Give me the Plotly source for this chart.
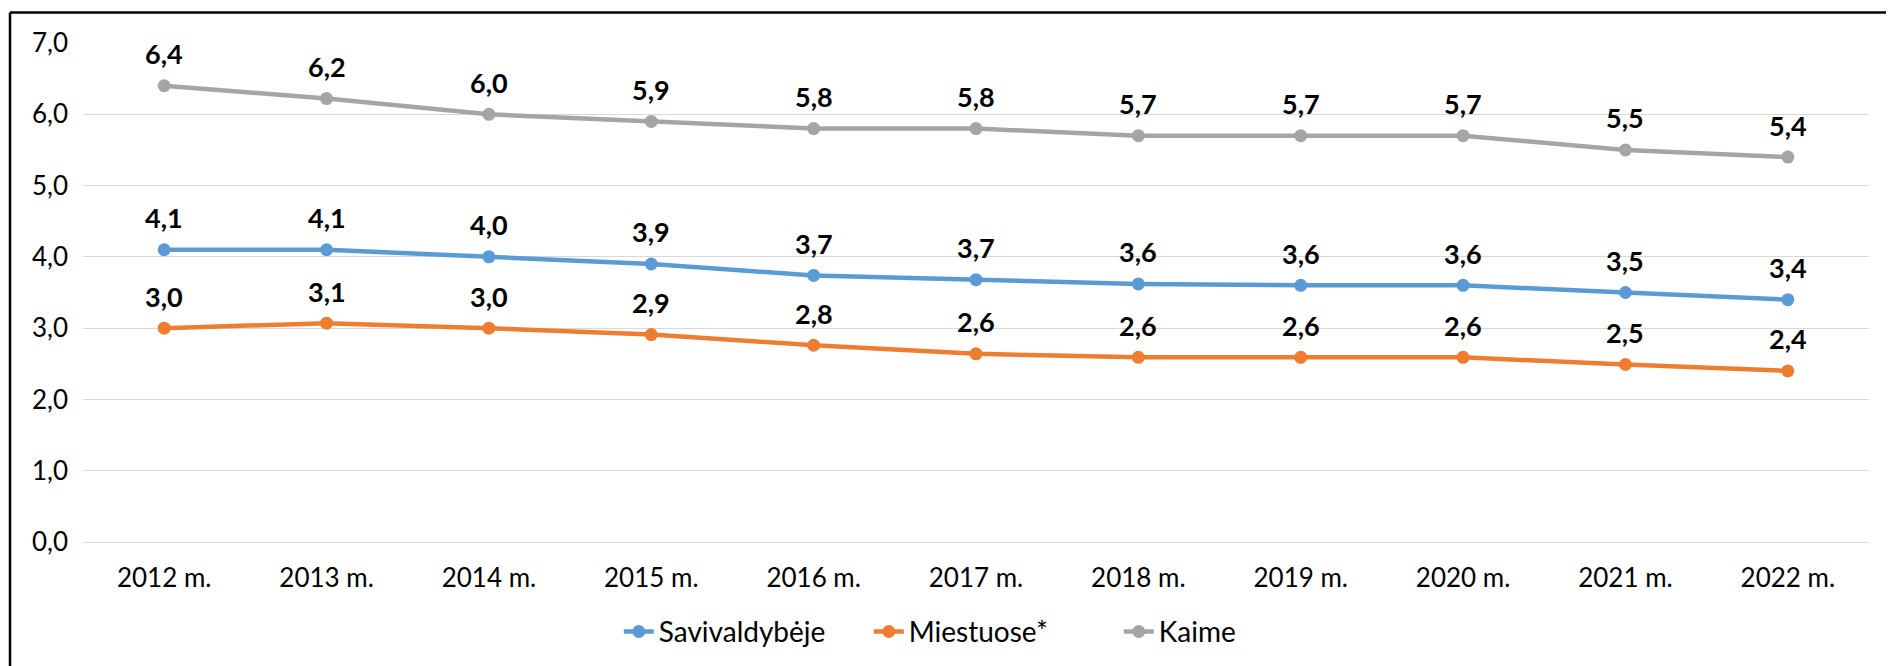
import plotly.graph_objects as go

years = ["2012 m.", "2013 m.", "2014 m.", "2015 m.", "2016 m.", "2017 m.",
         "2018 m.", "2019 m.", "2020 m.", "2021 m.", "2022 m."]
savivaldybeje = [4.1, 4.1, 4.0, 3.9, 3.74, 3.68, 3.62, 3.6, 3.6, 3.5, 3.4]
miestuose = [3.0, 3.07, 3.0, 2.91, 2.76, 2.64, 2.59, 2.59, 2.59, 2.49, 2.4]
kaime = [6.4, 6.22, 6.0, 5.9, 5.8, 5.8, 5.7, 5.7, 5.7, 5.5, 5.4]

series = [
    ("Savivaldybėje", savivaldybeje, "#5B9BD5"),
    ("Miestuose*", miestuose, "#ED7D31"),
    ("Kaime", kaime, "#A5A5A5"),
]

FONT = "Lato"
fig = go.Figure()
annotations = []
for name, vals, color in series:
    fig.add_trace(go.Scatter(
        x=years, y=vals, name=name, mode="lines+markers",
        line=dict(color=color, width=4.5),
        marker=dict(color=color, size=13),
    ))
    for x, v in zip(years, vals):
        annotations.append(dict(
            x=x, y=v, xref="x", yref="y", text=f"{v:.1f}".replace(".", ","),
            showarrow=False, yshift=32,
            font=dict(family=FONT, size=27, color="#000000", weight="bold"),
        ))

# page body has an 8px margin; figure origin sits at page (8, 8)
OFF = 8
W, H = 1894 - OFF, 666 - OFF
L, R, T, B = 83 - OFF, 25, 43 - OFF, 124
pw = W - L - R
ph = H - T - B
bx = (10 - OFF - L) / pw
by = (ph + T - (12.5 - OFF)) / ph
shapes = [
    dict(type="line", xref="paper", yref="paper", x0=bx, x1=bx, y0=by, y1=-(B + 5) / ph,
         line=dict(color="#000000", width=2.5)),
    dict(type="line", xref="paper", yref="paper", x0=bx, x1=(W - L + 5) / pw, y0=by, y1=by,
         line=dict(color="#000000", width=2.5)),
]

fig.update_layout(
    width=W, height=H,
    margin=dict(l=L, r=R, t=T, b=B, autoexpand=False),
    paper_bgcolor="white", plot_bgcolor="white",
    font=dict(family=FONT, size=26, color="#000000"),
    annotations=annotations,
    shapes=shapes,
    showlegend=True,
    legend=dict(orientation="h", x=0.300, xanchor="left", y=-0.18, yanchor="middle",
                font=dict(family=FONT, size=28, color="#000000"),
                entrywidth=205, tracegroupgap=0),
    separators=",.",
)
fig.update_xaxes(range=[-0.5, len(years) - 0.5], showgrid=False, showline=False,
                 ticks="", ticklabelstandoff=18, automargin=False,
                 tickfont=dict(family=FONT, size=26, color="#000000"))
fig.update_yaxes(range=[0, 7], dtick=1, tickformat=".1f", showgrid=True,
                 gridcolor="#D9D9D9", gridwidth=1, zeroline=True, zerolinecolor="#D9D9D9",
                 zerolinewidth=1, showline=False, ticks="", ticklabelstandoff=14,
                 automargin=False,
                 tickfont=dict(family=FONT, size=26, color="#000000"))

fig.write_html("out.html")
